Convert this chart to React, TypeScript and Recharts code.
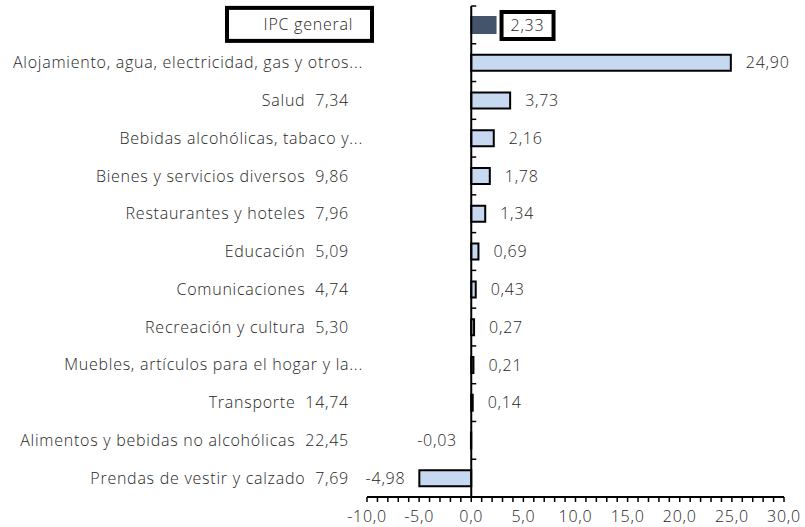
import React from "react";
import { BarChart, Bar, XAxis, YAxis, ReferenceLine, Cell, LabelList } from "recharts";

const categories = [
  "IPC general",
  "Alojamiento, agua, electricidad, gas y otros...",
  "Salud",
  "Bebidas alcohólicas, tabaco y...",
  "Bienes y servicios diversos",
  "Restaurantes y hoteles",
  "Educación",
  "Comunicaciones",
  "Recreación y cultura",
  "Muebles, artículos para el hogar y la...",
  "Transporte",
  "Alimentos y bebidas no alcohólicas",
  "Prendas de vestir y calzado",
];
const weights: (string | null)[] = [
  null, null, "7,34", null, "9,86", "7,96", "5,09", "4,74", "5,30", null, "14,74", "22,45", "7,69",
];
const values = [2.33, 24.9, 3.73, 2.16, 1.78, 1.34, 0.69, 0.43, 0.27, 0.21, 0.14, -0.03, -4.98];

const xTicks = [
  -10, -9, -8, -7, -6, -5, -4, -3, -2, -1, 0, 1, 2, 3, 4, 5, 6, 7, 8, 9, 10,
  11, 12, 13, 14, 15, 16, 17, 18, 19, 20, 21, 22, 23, 24, 25, 26, 27, 28, 29, 30,
];
const majorTicks = [-10, -5, 0, 5, 10, 15, 20, 25, 30];

const data = categories.map((name, i) => ({ name, weight: weights[i], value: values[i] }));

const FONT = "'Open Sans', sans-serif";
const FS = 16;
const LS = 0.75;
const FW = 300;
const TEXT = "#262626";
const LIGHT = "#C6D9F1";
const DARK = "#44546A";

const fmt = (v: number, d: number) => v.toFixed(d).replace(".", ",");

const txtProps = {
  fontFamily: FONT,
  fontSize: FS,
  fontWeight: FW,
  letterSpacing: LS,
  fill: TEXT,
};

const YTick = (props: any) => {
  const { x, y, payload } = props;
  const idx = data.findIndex((d) => d.name === payload.value);
  const row = data[idx];
  if (!row) return null;
  if (idx === 0) {
    return (
      <g>
        <rect x={x - 140} y={y - 17} width={145} height={33} fill="#fff" stroke="#000" strokeWidth={4} />
        <text x={x - 14} y={y} dy="0.35em" textAnchor="end" {...txtProps}>
          {row.name}
        </text>
      </g>
    );
  }
  const label = row.weight ? `${row.name}\u00A0\u00A0${row.weight}` : row.name;
  const dx = row.weight ? -18 : -4;
  return (
    <text x={x + dx} y={y} dy="0.35em" textAnchor="end" {...txtProps}>
      {label}
    </text>
  );
};

const XTick = (props: any) => {
  const { x, y, payload } = props;
  if (!majorTicks.includes(payload.value)) return null;
  return (
    <text x={x} y={y} dy={18} textAnchor="middle" {...txtProps}>
      {fmt(payload.value, 1)}
    </text>
  );
};

const ValueLabel = (props: any) => {
  const { x, y, width, height, value, index } = props;
  const left = Math.min(x, x + width);
  const right = Math.max(x, x + width);
  const cy = y + height / 2;
  const neg = value < 0;
  const tx = neg ? left - 14 : right + 15;
  const txt = fmt(value, 2);
  return (
    <g>
      {index === 0 && (
        <rect x={tx - 9} y={cy - 13} width={52} height={27} fill="#fff" stroke="#000" strokeWidth={4} />
      )}
      <text x={tx} y={cy} dy="0.35em" textAnchor={neg ? "end" : "start"} {...txtProps}>
        {txt}
      </text>
    </g>
  );
};

const ZeroLine = (props: any) => {
  const { x1, y1, x2, y2 } = props;
  const top = Math.min(y1, y2);
  const bottom = Math.max(y1, y2);
  const n = data.length;
  const step = (bottom - top) / n;
  const marks = [];
  for (let k = 0; k <= n; k++) {
    marks.push(<line key={k} x1={x1} x2={x1 + 5} y1={top + k * step} y2={top + k * step} stroke="#000" strokeWidth={1.5} />);
  }
  return (
    <g>
      <line x1={x1} x2={x2} y1={top} y2={bottom} stroke="#000" strokeWidth={2} />
      {marks}
    </g>
  );
};

export default function App() {
  return (
    <div style={{ position: "absolute", left: 0, top: 0, width: 805, height: 527, background: "#fff" }}>
      <BarChart
        width={805}
        height={527}
        data={data}
        layout="vertical"
        margin={{ top: 6, right: 21, bottom: 0, left: 0 }}
      >
        <XAxis
          type="number"
          domain={[-10, 30]}
          ticks={xTicks}
          interval={0}
          height={30}
          tickSize={5}
          tickMargin={2}
          axisLine={{ stroke: "#000", strokeWidth: 2 }}
          tickLine={{ stroke: "#000", strokeWidth: 1.5 }}
          tick={<XTick />}
        />
        <YAxis
          type="category"
          dataKey="name"
          width={367}
          axisLine={false}
          tickLine={false}
          tickSize={0}
          tickMargin={0}
          interval={0}
          tick={<YTick />}
        />
        <Bar dataKey="value" barSize={16} stroke="#000" strokeWidth={2} isAnimationActive={false}>
          {data.map((d, i) => (
            <Cell key={i} fill={i === 0 ? DARK : LIGHT} stroke={i === 0 ? DARK : "#000"} />
          ))}
          <LabelList dataKey="value" content={<ValueLabel />} />
        </Bar>
        <ReferenceLine x={0} shape={<ZeroLine />} />
      </BarChart>
    </div>
  );
}
